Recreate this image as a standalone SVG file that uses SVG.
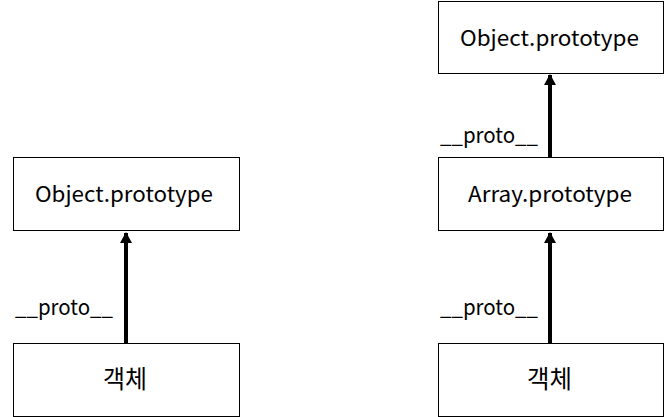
<svg xmlns="http://www.w3.org/2000/svg" width="664" height="417" viewBox="0 0 664 417">
<style>
.box{fill:#fff;stroke:#000;stroke-width:1}
.t{font-family:"Noto Sans CJK KR","Noto Sans",sans-serif;font-size:21px;fill:#000}
.k{font-family:"Noto Sans CJK KR",sans-serif;font-size:25px;fill:#000}
.l{font-family:"Noto Sans CJK KR","Noto Sans",sans-serif;font-size:21px;fill:#000}
.c{stroke:#000;stroke-width:4;fill:none;marker-end:url(#ah)}
</style>
<defs>
<marker id="ah" markerUnits="userSpaceOnUse" markerWidth="12" markerHeight="12" refX="10" refY="6" orient="auto">
<path d="M0,0 L11,6 L0,12 z" fill="#000"/>
</marker>
</defs>
<rect width="664" height="417" fill="#fff"/>
<g id="connectors">
<line class="c" x1="126" y1="343" x2="126" y2="233"/>
<line class="c" x1="550" y1="343" x2="550" y2="233"/>
<line class="c" x1="550" y1="157" x2="550" y2="75"/>
</g>
<g id="labels">
<text class="l" x="15" y="315" textLength="98" lengthAdjust="spacingAndGlyphs">__proto__</text>
<text class="l" x="440" y="315" textLength="98" lengthAdjust="spacingAndGlyphs">__proto__</text>
<text class="l" x="440" y="143" textLength="98" lengthAdjust="spacingAndGlyphs">__proto__</text>
</g>
<g id="left-object-prototype">
<rect class="box" x="13.5" y="157.5" width="226" height="73"/>
<text class="t" x="35" y="202" textLength="178" lengthAdjust="spacingAndGlyphs">Object.prototype</text>
</g>
<g id="left-object">
<rect class="box" x="13.5" y="343.5" width="226" height="73"/>
<text class="k" x="103" y="388" textLength="44" lengthAdjust="spacingAndGlyphs">객체</text>
</g>
<g id="right-object-prototype">
<rect class="box" x="438.5" y="1.5" width="225" height="72"/>
<text class="t" x="460" y="46" textLength="179" lengthAdjust="spacingAndGlyphs">Object.prototype</text>
</g>
<g id="right-array-prototype">
<rect class="box" x="438.5" y="157.5" width="225" height="73"/>
<text class="t" x="468" y="202" textLength="164" lengthAdjust="spacingAndGlyphs">Array.prototype</text>
</g>
<g id="right-object">
<rect class="box" x="438.5" y="343.5" width="225" height="73"/>
<text class="k" x="527" y="388" textLength="45" lengthAdjust="spacingAndGlyphs">객체</text>
</g>
</svg>
